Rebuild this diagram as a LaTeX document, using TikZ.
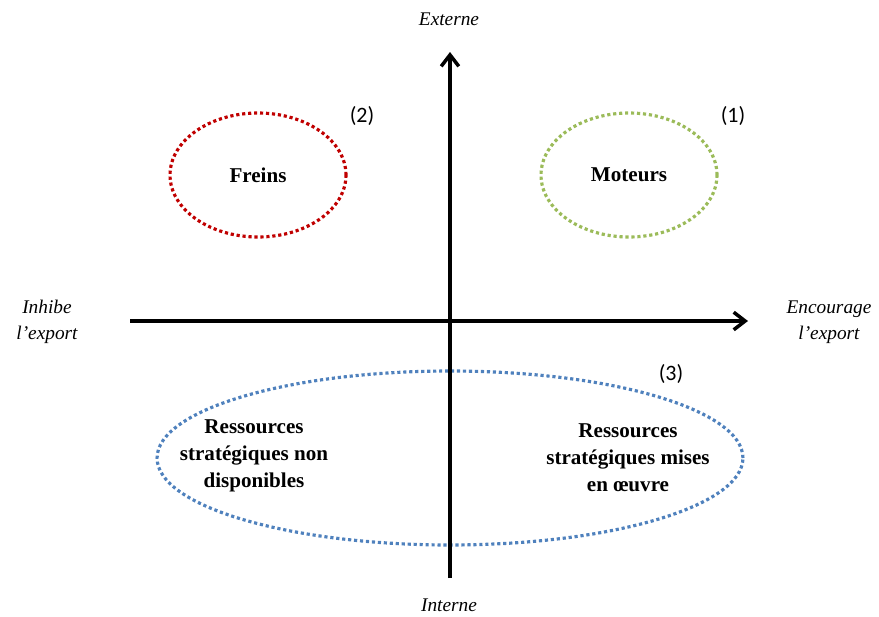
\documentclass[tikz,border=0pt]{standalone}
\usepackage{fontspec}
\setmainfont{Liberation Serif}
\newfontfamily\numfont{Carlito}
\usetikzlibrary{arrows.meta,shapes.geometric}
\definecolor{frein}{RGB}{192,0,0}
\definecolor{moteur}{RGB}{155,187,89}
\definecolor{ressource}{RGB}{79,129,189}
\begin{document}
\begin{tikzpicture}[x=0.02cm,y=-0.02cm,
axis/.style={line width=1.9pt,-{Straight Barb[length=6.5pt,width=10pt,line width=2pt]}},
zone/.style={ellipse,draw,line width=1.8pt,line cap=butt,dash pattern=on 1.8pt off 1.6pt},
pole/.style={font=\fontsize{11}{14.7}\selectfont\itshape,align=center},
quad/.style={font=\fontsize{12}{15.3}\selectfont\bfseries,align=center},
tag/.style={font=\numfont\fontsize{12.5}{15}\selectfont}]
\useasboundingbox (0,0) rectangle (879,616);

\draw (258,175) node[zone,frein,minimum width=3.52cm,minimum height=2.48cm] (freins) {};
\draw (629,175) node[zone,moteur,minimum width=3.52cm,minimum height=2.48cm] (moteurs) {};
\draw (450,458) node[zone,ressource,minimum width=11.72cm,minimum height=3.48cm] (ress) {};

\coordinate (left) at (130,321);
\coordinate (right) at (748,321);
\coordinate (bottom) at (450,578);
\coordinate (top) at (450,52);
\draw[axis] (left) -- (right);
\draw[axis] (bottom) -- (top);

\draw (449,19) node[pole] (ext) {Externe};
\draw (449,605) node[pole] (int) {Interne};
\draw (47,322) node[pole] (inh) {Inhibe\\l'export};
\draw (829,322) node[pole] (enc) {Encourage\\l'export};

\draw (freins.center) node[quad] (tfreins) {Freins};
\draw (moteurs.center) node[quad] (tmoteurs) {Moteurs};
\draw (254,456) node[quad] (tnon) {Ressources\\stratégiques non\\disponibles};
\draw (628,458) node[quad] (tmises) {Ressources\\stratégiques mises\\en œuvre};

\draw (362,116) node[tag] (n2) {(2)};
\draw (733,116) node[tag] (n1) {(1)};
\draw (671,374) node[tag] (n3) {(3)};
\end{tikzpicture}
\end{document}
